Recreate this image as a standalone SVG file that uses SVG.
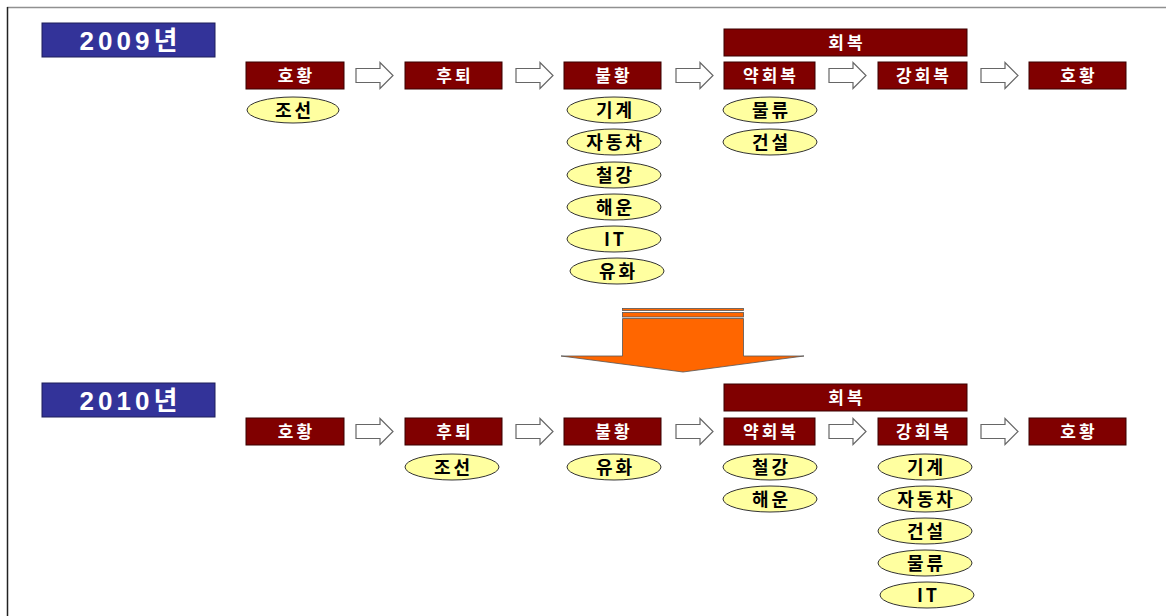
<svg xmlns="http://www.w3.org/2000/svg" width="1166" height="616" viewBox="0 0 1166 616">
<defs>
<style>
.bg{fill:#ffffff}
.year rect{fill:#333399;stroke:#1e1e5a;stroke-width:1}
.year text{fill:#ffffff;font-family:"Liberation Sans","Noto Sans CJK KR",sans-serif;font-weight:bold;font-size:26px;text-anchor:middle}
.box rect{fill:#800000;stroke:#3a0000;stroke-width:1}
.box text{fill:#ffffff;font-family:"Noto Sans CJK KR",sans-serif;font-weight:bold;font-size:17px;text-anchor:middle;letter-spacing:3px}
.ell ellipse{fill:#ffffa0;stroke:#333333;stroke-width:1}
.ell text{fill:#000000;font-family:"Noto Sans CJK KR","Liberation Sans",sans-serif;font-weight:bold;font-size:18px;text-anchor:middle;letter-spacing:3px}
.harrow{fill:#ffffff;stroke:#666666;stroke-width:1.2}
</style>
<path id="ha" d="M0,-7 L24,-7 L24,-13 L37,0 L24,13 L24,7 L0,7 Z"/>
</defs>
<rect class="bg" x="0" y="0" width="1166" height="616"/>
<g id="frame">
<line x1="7" y1="7.5" x2="1166" y2="7.5" stroke="#909090" stroke-width="1.5"/>
<line x1="7.5" y1="7" x2="7.5" y2="616" stroke="#222222" stroke-width="1.5"/>
</g>

<g id="y2009" class="year"><rect x="42" y="23" width="173" height="34"/><text x="128.5" y="49.5" textLength="98" lengthAdjust="spacing">2009년</text></g>
<g id="y2010" class="year"><rect x="42" y="383" width="173" height="34"/><text x="128.5" y="409.5" textLength="98" lengthAdjust="spacing">2010년</text></g>

<!-- Row 2009 boxes -->
<g id="r1-recover" class="box"><rect x="724" y="29" width="243" height="27"/><text x="847" y="48.5">회복</text></g>
<g id="r1-boom1" class="box"><rect x="246" y="62" width="98" height="27"/><text x="296.5" y="81.5">호황</text></g>
<g id="r1-recess" class="box"><rect x="405" y="62" width="97" height="27"/><text x="455" y="81.5">후퇴</text></g>
<g id="r1-depress" class="box"><rect x="564" y="62" width="97" height="27"/><text x="614" y="81.5">불황</text></g>
<g id="r1-weak" class="box"><rect x="724" y="62" width="91" height="27"/><text x="771" y="81.5">약회복</text></g>
<g id="r1-strong" class="box"><rect x="878" y="62" width="89" height="27"/><text x="924" y="81.5">강회복</text></g>
<g id="r1-boom2" class="box"><rect x="1029" y="62" width="97" height="27"/><text x="1079" y="81.5">호황</text></g>

<!-- Row 2010 boxes -->
<g id="r2-recover" class="box"><rect x="724" y="384" width="243" height="27"/><text x="847" y="403.5">회복</text></g>
<g id="r2-boom1" class="box"><rect x="246" y="418" width="98" height="27"/><text x="296.5" y="437.5">호황</text></g>
<g id="r2-recess" class="box"><rect x="405" y="418" width="97" height="27"/><text x="455" y="437.5">후퇴</text></g>
<g id="r2-depress" class="box"><rect x="564" y="418" width="97" height="27"/><text x="614" y="437.5">불황</text></g>
<g id="r2-weak" class="box"><rect x="724" y="418" width="91" height="27"/><text x="771" y="437.5">약회복</text></g>
<g id="r2-strong" class="box"><rect x="878" y="418" width="89" height="27"/><text x="924" y="437.5">강회복</text></g>
<g id="r2-boom2" class="box"><rect x="1029" y="418" width="97" height="27"/><text x="1079" y="437.5">호황</text></g>

<!-- 2009 ellipses -->
<g id="e1-ship" class="ell"><ellipse cx="293" cy="110" rx="46" ry="13"/><text x="294.5" y="116.5">조선</text></g>
<g id="e1-mach" class="ell"><ellipse cx="614" cy="110" rx="47" ry="13"/><text x="615.5" y="116.5">기계</text></g>
<g id="e1-auto" class="ell"><ellipse cx="614" cy="142" rx="47" ry="13"/><text x="615.5" y="148.5">자동차</text></g>
<g id="e1-steel" class="ell"><ellipse cx="614" cy="175" rx="47" ry="13"/><text x="615.5" y="181.5">철강</text></g>
<g id="e1-shipping" class="ell"><ellipse cx="614" cy="207" rx="47" ry="13"/><text x="615.5" y="213.5">해운</text></g>
<g id="e1-it" class="ell"><ellipse cx="614" cy="239" rx="47" ry="13"/><text x="615.5" y="245.5">IT</text></g>
<g id="e1-petro" class="ell"><ellipse cx="617" cy="271" rx="47" ry="13"/><text x="618.5" y="277.5">유화</text></g>
<g id="e1-logi" class="ell"><ellipse cx="770" cy="110" rx="47" ry="13"/><text x="771.5" y="116.5">물류</text></g>
<g id="e1-cons" class="ell"><ellipse cx="770" cy="142" rx="47" ry="13"/><text x="771.5" y="148.5">건설</text></g>

<!-- 2010 ellipses -->
<g id="e2-ship" class="ell"><ellipse cx="452" cy="467" rx="47" ry="13"/><text x="453.5" y="473.5">조선</text></g>
<g id="e2-petro" class="ell"><ellipse cx="614" cy="467" rx="47" ry="13"/><text x="615.5" y="473.5">유화</text></g>
<g id="e2-steel" class="ell"><ellipse cx="770" cy="467" rx="47" ry="13"/><text x="771.5" y="473.5">철강</text></g>
<g id="e2-shipping" class="ell"><ellipse cx="770" cy="499" rx="47" ry="13"/><text x="771.5" y="505.5">해운</text></g>
<g id="e2-mach" class="ell"><ellipse cx="925" cy="467" rx="47" ry="13"/><text x="926.5" y="473.5">기계</text></g>
<g id="e2-auto" class="ell"><ellipse cx="925" cy="499" rx="47" ry="13"/><text x="926.5" y="505.5">자동차</text></g>
<g id="e2-cons" class="ell"><ellipse cx="925" cy="531" rx="47" ry="13"/><text x="926.5" y="537.5">건설</text></g>
<g id="e2-logi" class="ell"><ellipse cx="925" cy="563" rx="47" ry="13"/><text x="926.5" y="569.5">물류</text></g>
<g id="e2-it" class="ell"><ellipse cx="927" cy="595" rx="47" ry="13"/><text x="928.5" y="601.5">IT</text></g>

<g id="connectors">
<use href="#ha" class="harrow" transform="translate(356,75.5)"/>
<use href="#ha" class="harrow" transform="translate(516,75.5)"/>
<use href="#ha" class="harrow" transform="translate(676,75.5)"/>
<use href="#ha" class="harrow" transform="translate(829,75.5)"/>
<use href="#ha" class="harrow" transform="translate(981,75.5)"/>
<use href="#ha" class="harrow" transform="translate(356,431.5)"/>
<use href="#ha" class="harrow" transform="translate(516,431.5)"/>
<use href="#ha" class="harrow" transform="translate(676,431.5)"/>
<use href="#ha" class="harrow" transform="translate(829,431.5)"/>
<use href="#ha" class="harrow" transform="translate(981,431.5)"/>
<g id="big-arrow" fill="#ff6600" stroke="#555555" stroke-width="0.8">
<rect x="622.5" y="308.5" width="121" height="2"/>
<rect x="622.5" y="312.5" width="121" height="4.5"/>
<path d="M622.5,318.5 L743.5,318.5 L743.5,356 L804,356 L683,372 L561,356 L622.5,356 Z"/>
</g>
</g>
</svg>
